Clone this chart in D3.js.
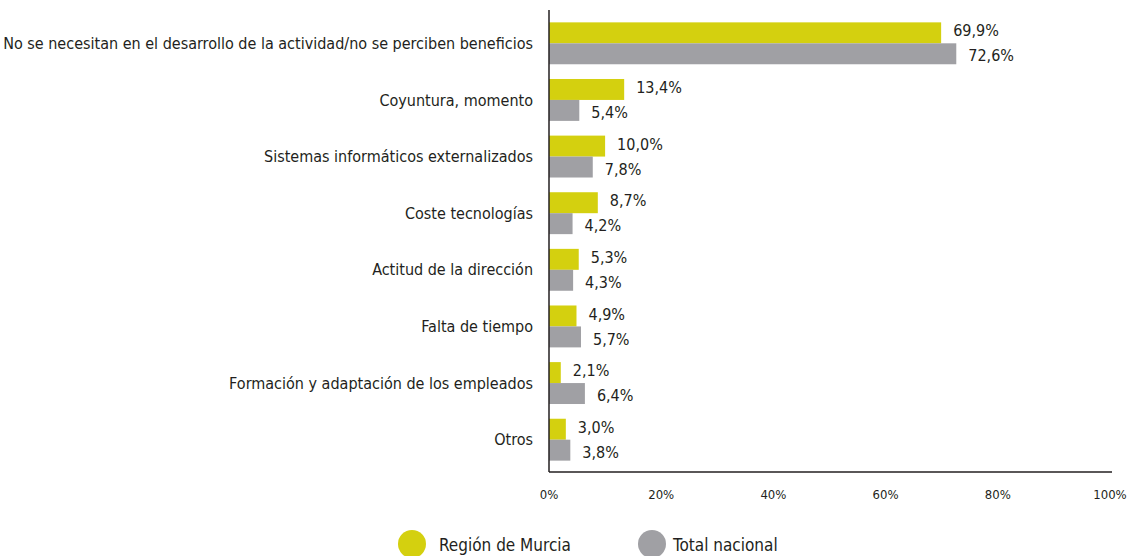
<!DOCTYPE html>
<html>
<head>
<meta charset="utf-8">
<script src="https://cdn.jsdelivr.net/npm/d3@7"></script>
<style>
  body { margin: 0; background: #fff; }
  text { font-family: "Liberation Sans Narrow", "DejaVu Sans Condensed", "Roboto", sans-serif; fill: #231f20; }
</style>
</head>
<body>
<div id="chart"></div>
<script>
// categories top to bottom
var categories = [
  "No se necesitan en el desarrollo de la actividad/no se perciben beneficios",
  "Coyuntura, momento",
  "Sistemas informáticos externalizados",
  "Coste tecnologías",
  "Actitud de la dirección",
  "Falta de tiempo",
  "Formación y adaptación de los empleados",
  "Otros"
];
var murcia = [69.9, 13.4, 10.0, 8.7, 5.3, 4.9, 2.1, 3.0];
var nacional = [72.6, 5.4, 7.8, 4.2, 4.3, 5.7, 6.4, 3.8];
var seriesNames = ["Región de Murcia", "Total nacional"];
var colors = ["#d4d00f", "#a0a0a4"];
var xTicks = [0, 20, 40, 60, 80, 100];

var W = 1132, H = 556;
var plotLeft = 549, plotRight = 1110, plotTop = 15, plotBottom = 468;

var svg = d3.select("#chart").append("svg")
  .attr("width", W)
  .attr("height", H);

var x = d3.scaleLinear().domain([0, 100]).range([plotLeft, plotRight]);
var y = d3.scaleBand().domain(categories).range([plotTop, plotBottom]).paddingInner(0.26).paddingOuter(0.13);
var ySub = d3.scaleBand().domain([0, 1]).range([0, y.bandwidth()]);

var fmt = function(v) { return v.toFixed(1).replace(".", ",") + "%"; };

// bars
var groups = svg.selectAll(".grp")
  .data(categories)
  .enter().append("g")
    .attr("transform", function(d) { return "translate(0," + y(d) + ")"; });

groups.each(function(c, i) {
  var g = d3.select(this);
  [murcia[i], nacional[i]].forEach(function(v, s) {
    g.append("rect")
      .attr("x", x(0))
      .attr("y", ySub(s))
      .attr("width", x(v) - x(0))
      .attr("height", ySub.bandwidth())
      .style("fill", colors[s]);
    g.append("text")
      .attr("x", x(v) + 12)
      .attr("y", ySub(s) + ySub.bandwidth() / 2 + (s == 0 ? -2 : 2))
      .attr("dy", "0.35em")
      .style("font-size", "16px")
      .text(fmt(v));
  });
});

// category labels
svg.selectAll(".cat")
  .data(categories)
  .enter().append("text")
    .attr("text-anchor", "end")
    .attr("x", plotLeft - 16)
    .attr("y", function(d) { return y(d) + y.bandwidth() / 2; })
    .attr("dy", "0.35em")
    .style("font-size", "16px")
    .text(function(d) { return d; });

// axes lines
svg.append("line")
  .attr("x1", plotLeft).attr("x2", plotLeft)
  .attr("y1", 10).attr("y2", 472)
  .style("stroke", "#231f20").style("stroke-width", 1.5);
svg.append("line")
  .attr("x1", plotLeft).attr("x2", 1112)
  .attr("y1", 472).attr("y2", 472)
  .style("stroke", "#231f20").style("stroke-width", 1.5);

// x tick labels
svg.selectAll(".xt")
  .data(xTicks)
  .enter().append("text")
    .attr("x", function(d) { return x(d); })
    .attr("y", 499)
    .attr("text-anchor", "middle")
    .style("font-size", "13px")
    .text(function(d) { return d + "%"; });

// legend
var legX = [412, 652];
var legGap = [27, 21];
seriesNames.forEach(function(n, s) {
  svg.append("circle")
    .attr("cx", legX[s]).attr("cy", 544)
    .attr("r", 14)
    .style("fill", colors[s]);
  svg.append("text")
    .attr("x", legX[s] + legGap[s])
    .attr("y", 544)
    .attr("dy", "0.4em")
    .style("font-size", "17px")
    .text(n);
});
</script>
</body>
</html>
